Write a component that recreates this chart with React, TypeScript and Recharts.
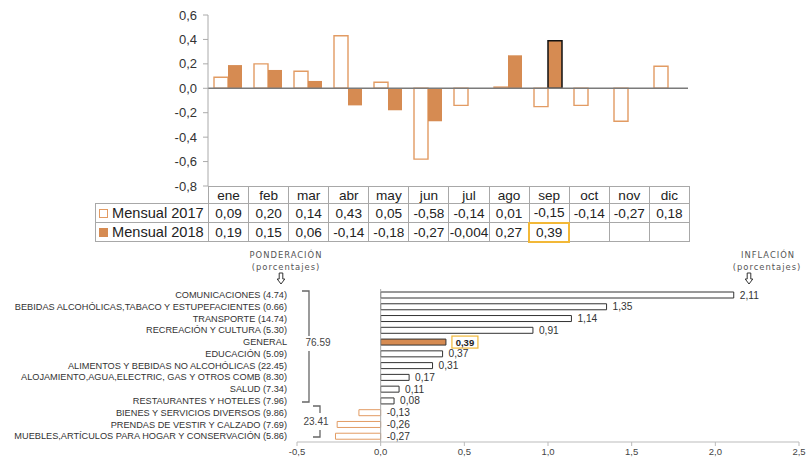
import React from 'react';
import { BarChart, Bar, XAxis, YAxis, ReferenceLine, Cell, LabelList } from 'recharts';

const FONT = '"Liberation Sans", Arial, sans-serif';
const ORANGE = '#D68B52';
const ORANGE_LINE = '#E29B63';
const YELLOW = '#F2B838';

// ---- top chart data ----
const months = ['ene', 'feb', 'mar', 'abr', 'may', 'jun', 'jul', 'ago', 'sep', 'oct', 'nov', 'dic'];
const mensual2017 = [0.09, 0.2, 0.14, 0.43, 0.05, -0.58, -0.14, 0.01, -0.15, -0.14, -0.27, 0.18];
const mensual2018: (number | null)[] = [0.19, 0.15, 0.06, -0.14, -0.18, -0.27, -0.004, 0.27, 0.39, null, null, null];
const seriesNames = ['Mensual 2017', 'Mensual 2018'];
const yTicks = [-0.8, -0.6, -0.4, -0.2, 0, 0.2, 0.4, 0.6];
const highlightMonth = 'sep';

// ---- bottom chart data ----
const categories = [
  'COMUNICACIONES (4.74)',
  'BEBIDAS ALCOHÓLICAS,TABACO Y ESTUPEFACIENTES (0.66)',
  'TRANSPORTE (14.74)',
  'RECREACIÓN Y CULTURA (5.30)',
  'GENERAL',
  'EDUCACIÓN (5.09)',
  'ALIMENTOS Y BEBIDAS NO ALCOHÓLICAS (22.45)',
  'ALOJAMIENTO,AGUA,ELECTRIC, GAS Y OTROS COMB (8.30)',
  'SALUD (7.34)',
  'RESTAURANTES Y HOTELES (7.96)',
  'BIENES Y SERVICIOS DIVERSOS (9.86)',
  'PRENDAS DE VESTIR Y CALZADO (7.69)',
  'MUEBLES,ARTÍCULOS PARA HOGAR Y CONSERVACIÓN (5.86)',
];
const inflation = [2.11, 1.35, 1.14, 0.91, 0.39, 0.37, 0.31, 0.17, 0.11, 0.08, -0.13, -0.26, -0.27];
const xTicks = [-0.5, 0, 0.5, 1, 1.5, 2, 2.5];
const groupTotals = ['76.59', '23.41'];
const generalName = 'GENERAL';

const monthlyData = months.map((m, i) => ({ mes: m, m2017: mensual2017[i], m2018: mensual2018[i] }));
const inflData = categories.map((c, i) => ({ name: c, value: inflation[i] }));

const fmt1 = (v: number) => (Math.abs(v) < 1e-9 ? 0 : v).toFixed(1).replace('.', ',');
const fmtCell = (v: number | null) =>
  v == null ? '' : (Math.abs(v) < 0.01 && v !== 0 ? v.toFixed(3) : v.toFixed(2)).replace('.', ',');

const CatTick = (props: any) => {
  const { x, y, payload } = props;
  return (
    <text x={x} y={y} dy={3.2} textAnchor="end" fontSize={9.2} fill="#333" fontFamily={FONT}>
      {payload.value}
    </text>
  );
};

const ValueLabel = (props: any) => {
  const { x, y, width, height, value, index } = props;
  const right = Math.max(x, x + width);
  const cy = y + height / 2;
  const label = value.toFixed(2).replace('.', ',');
  if (categories[index] === generalName) {
    return (
      <g>
        <rect x={right + 6} y={cy - 6} width={26} height={12} fill="#fff" stroke={YELLOW} strokeWidth={1.2} />
        <text x={right + 19} y={cy} dy={3.5} textAnchor="middle" fontSize={9.5} fontWeight="bold" fill="#222" fontFamily={FONT}>
          {label}
        </text>
      </g>
    );
  }
  return (
    <text x={right + 6} y={cy} dy={3.5} textAnchor="start" fontSize={10.2} fill="#333" fontFamily={FONT}>
      {label}
    </text>
  );
};

const cellBase: React.CSSProperties = {
  border: '1px solid #a8a8a8',
  padding: 0,
  textAlign: 'center',
  whiteSpace: 'nowrap',
  overflow: 'visible',
};

const DownArrow = ({ cx, y }: { cx: number; y: number }) => (
  <path
    d={`M${cx - 1.8},${y} H${cx + 1.8} V${y + 6} H${cx + 3.8} L${cx},${y + 11} L${cx - 3.8},${y + 6} H${cx - 1.8} Z`}
    fill="#fff"
    stroke="#333"
    strokeWidth={1}
  />
);

export default function App() {
  const series = [mensual2017, mensual2018];
  return (
    <div style={{ position: 'absolute', left: 0, top: 0, width: 808, height: 461, background: '#fff', fontFamily: FONT, overflow: 'hidden' }}>
      {/* top chart */}
      <div style={{ position: 'absolute', left: 0, top: 0 }}>
        <BarChart width={700} height={200} data={monthlyData} margin={{ top: 15, right: 12, bottom: 14, left: 0 }} barCategoryGap={6} barGap={0}>
          <XAxis dataKey="mes" hide />
          <YAxis
            width={208}
            domain={[-0.8, 0.6]}
            ticks={yTicks}
            interval={0}
            allowDataOverflow
            tickFormatter={fmt1}
            axisLine={{ stroke: '#aaa' }}
            tickLine={{ stroke: '#aaa' }}
            tickSize={5}
            tickMargin={6}
            tick={{ fontSize: 13, fill: '#333', fontFamily: FONT }}
          />
          <Bar dataKey="m2017" fill="#fff" stroke={ORANGE_LINE} strokeWidth={1.4} isAnimationActive={false} />
          <Bar dataKey="m2018" fill={ORANGE} isAnimationActive={false}>
            {monthlyData.map((d, i) => (
              <Cell key={i} stroke={d.mes === highlightMonth ? '#111' : ORANGE} strokeWidth={d.mes === highlightMonth ? 1.5 : 0} />
            ))}
          </Bar>
          <ReferenceLine y={0} stroke="#7a7a7a" strokeWidth={1.5} />
        </BarChart>
      </div>

      {/* data table */}
      <table
        style={{
          position: 'absolute',
          left: 95,
          top: 186,
          borderCollapse: 'collapse',
          tableLayout: 'fixed',
          width: 594,
          fontFamily: FONT,
          fontSize: 13.6,
          color: '#222',
        }}
      >
        <colgroup>
          <col style={{ width: 113 }} />
          {months.map((m) => (
            <col key={m} style={{ width: 40.08 }} />
          ))}
        </colgroup>
        <tbody>
          <tr style={{ height: 17 }}>
            <td style={{ border: 'none', padding: 0 }} />
            {months.map((m) => (
              <td key={m} style={{ ...cellBase, lineHeight: '15px' }}>
                {m}
              </td>
            ))}
          </tr>
          {series.map((vals, si) => (
            <tr key={si} style={{ height: 19 }}>
              <td style={{ ...cellBase, textAlign: 'left', paddingLeft: 3, lineHeight: '17px', fontSize: 14.6 }}>
                <span
                  style={{
                    display: 'inline-block',
                    width: 7,
                    height: 7,
                    border: `1px solid ${si === 0 ? ORANGE_LINE : ORANGE}`,
                    background: si === 0 ? '#fff' : ORANGE,
                    marginRight: 4,
                    verticalAlign: 0,
                  }}
                />
                {seriesNames[si]}
              </td>
              {vals.map((v, i) => {
                const hl = si === 1 && months[i] === highlightMonth;
                return (
                  <td key={i} style={{ ...cellBase, lineHeight: '17px', ...(hl ? { border: `2px solid ${YELLOW}` } : {}) }}>
                    {fmtCell(v)}
                  </td>
                );
              })}
            </tr>
          ))}
        </tbody>
      </table>

      {/* bottom chart */}
      <div style={{ position: 'absolute', left: 0, top: 250 }}>
        <BarChart layout="vertical" width={808} height={211} data={inflData} margin={{ top: 39, right: 9, bottom: 0, left: 0 }} barSize={6}>
          <XAxis
            type="number"
            domain={[-0.5, 2.5]}
            ticks={xTicks}
            interval={0}
            allowDataOverflow
            tickFormatter={fmt1}
            height={19}
            axisLine={{ stroke: '#bbb' }}
            tickLine={{ stroke: '#bbb' }}
            tickSize={4}
            tickMargin={2}
            tick={{ fontSize: 9.5, fill: '#444', fontFamily: FONT }}
          />
          <YAxis type="category" dataKey="name" width={297} axisLine={false} tickLine={false} tickSize={0} tickMargin={10} interval={0} tick={<CatTick />} />
          <ReferenceLine x={0} stroke="#aaa" />
          <Bar dataKey="value" isAnimationActive={false}>
            {inflData.map((d, i) => (
              <Cell
                key={i}
                fill={d.name === generalName ? ORANGE : '#fff'}
                stroke={d.name === generalName ? '#333' : d.value < 0 ? ORANGE_LINE : '#333'}
                strokeWidth={1}
              />
            ))}
            <LabelList dataKey="value" content={<ValueLabel />} />
          </Bar>
        </BarChart>
      </div>

      {/* annotations */}
      <svg width={808} height={461} style={{ position: 'absolute', left: 0, top: 0, pointerEvents: 'none' }}>
        <g fontFamily='"DejaVu Sans", Verdana, sans-serif' fill="#555" fontSize={8.4} letterSpacing={1} textAnchor="middle">
          <text x={286} y={258}>PONDERACIÓN</text>
          <text x={286} y={270}>(porcentajes)</text>
          <text x={768} y={258}>INFLACIÓN</text>
          <text x={767} y={270}>(porcentajes)</text>
        </g>
        <DownArrow cx={281} y={273} />
        <DownArrow cx={749} y={273} />
        <g stroke="#666" strokeWidth={1.3} fill="none">
          <path d="M302,291 H309 V336" />
          <path d="M309,351 V402 H302" />
          <path d="M313,406 H320 V413" />
          <path d="M320,430 V437 H313" />
        </g>
        <g fontFamily={FONT} fontSize={10} fill="#444" textAnchor="middle">
          <text x={318} y={346}>{groupTotals[0]}</text>
          <text x={316} y={425}>{groupTotals[1]}</text>
        </g>
      </svg>
    </div>
  );
}
